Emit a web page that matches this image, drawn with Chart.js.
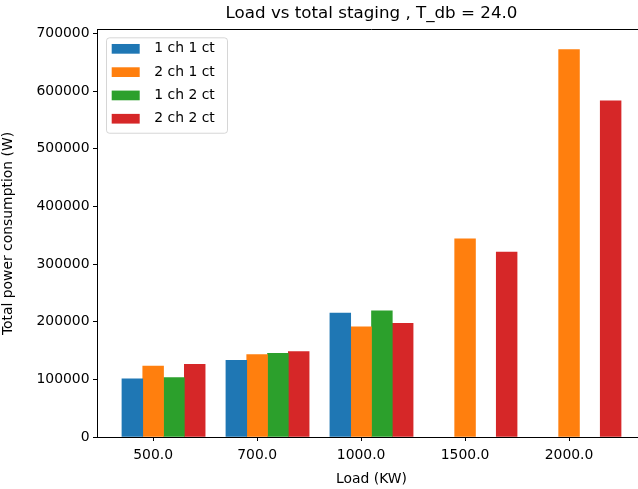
<!DOCTYPE html>
<html>
<head>
<meta charset="utf-8">
<script src="https://cdn.jsdelivr.net/npm/chart.js@4.4.0/dist/chart.umd.min.js"></script>
<style>
  html, body { margin: 0; padding: 0; background: #fff; }
  #wrap { width: 638px; height: 489px; overflow: hidden; }
  canvas { display: block; }
</style>
</head>
<body>
<div id="wrap"><canvas id="chart" width="646" height="489"></canvas></div>
<script>
// loads on the x axis (KW)
const loads = ['500.0', '700.0', '1000.0', '1500.0', '2000.0'];
const seriesNames = ['1 ch 1 ct', '2 ch 1 ct', '1 ch 2 ct', '2 ch 2 ct'];

// total power consumption (W), null = no bar
const oneChOneCt = [101000, 133000, 215000, null, null];
const twoChOneCt = [123000, 143000, 191000, 344000, 672000];
const oneChTwoCt = [103000, 145000, 219000, null, null];
const twoChTwoCt = [126000, 148000, 197000, 321000, 583000];

const yTicks = [0, 100000, 200000, 300000, 400000, 500000, 600000, 700000];
const colors = ['#1f77b4', '#ff7f0e', '#2ca02c', '#d62728'];

const barWidth = 0.2;
const font = { family: 'DejaVu Sans', size: 13.9 };

// bars sit at x-0.2, x, x+0.2, x+0.4 like the matplotlib script
function toBars(values, i) {
  const off = (i - 1) * barWidth;
  return values
    .map((v, k) => (v === null ? null : { x: k + off, y: v }))
    .filter(Boolean);
}

const allSeries = [oneChOneCt, twoChOneCt, oneChTwoCt, twoChTwoCt];
const datasets = allSeries.map((vals, i) => ({
  label: seriesNames[i],
  data: toBars(vals, i),
  backgroundColor: colors[i],
  borderWidth: 0,
  grouped: false,
  categoryPercentage: 1,
  barPercentage: 1
}));

// legend box drawn inside the axes, top-left
const insideLegend = {
  id: 'insideLegend',
  afterDatasetsDraw(chart) {
    const { ctx, chartArea } = chart;
    const x0 = chartArea.left + 9;
    const y0 = chartArea.top + 7.3;
    const rowH = 23.3;
    const n = chart.data.datasets.length;
    ctx.save();
    ctx.beginPath();
    ctx.roundRect(x0 + 0.5, y0 + 0.5, 121, rowH * n + 2.2, 3);
    ctx.fillStyle = 'rgba(255,255,255,0.8)';
    ctx.fill();
    ctx.strokeStyle = 'rgba(204,204,204,0.8)';
    ctx.lineWidth = 1;
    ctx.stroke();
    ctx.font = `${font.size}px "${font.family}"`;
    ctx.textBaseline = 'middle';
    ctx.textAlign = 'left';
    chart.data.datasets.forEach((ds, i) => {
      const cy = y0 + 11.5 + i * rowH;
      ctx.fillStyle = ds.backgroundColor;
      ctx.fillRect(x0 + 5.7, cy - 4.85, 28, 9.7);
      ctx.fillStyle = '#000';
      ctx.fillText(ds.label, x0 + 48.3, cy);
    });
    ctx.restore();
  }
};

// top and right spines
const frame = {
  id: 'frame',
  afterDraw(chart) {
    const { ctx, chartArea } = chart;
    ctx.save();
    ctx.strokeStyle = '#000';
    ctx.lineWidth = 1;
    ctx.beginPath();
    ctx.moveTo(chartArea.left, Math.round(chartArea.top) - 0.5);
    ctx.lineTo(chartArea.right, Math.round(chartArea.top) - 0.5);
    ctx.lineTo(chartArea.right, chartArea.bottom);
    ctx.stroke();
    ctx.restore();
  }
};

const ctx = document.getElementById('chart').getContext('2d');
new Chart(ctx, {
  type: 'bar',
  data: { datasets: datasets },
  plugins: [insideLegend, frame],
  options: {
    responsive: false,
    animation: false,
    devicePixelRatio: 1,
    layout: { padding: 0 },
    plugins: {
      legend: { display: false },
      tooltip: { enabled: false },
      title: {
        display: true,
        text: 'Load vs total staging , T_db = 24.0',
        color: '#000',
        fullSize: false,
        font: { family: font.family, size: 16.7, weight: 'normal' },
        padding: { top: 3.5, bottom: 6.5 }
      }
    },
    scales: {
      x: {
        type: 'linear',
        offset: false,
        min: -0.54,
        max: 4.74,
        afterFit(scale) { scale.height = 52; },
        afterBuildTicks(scale) {
          scale.ticks = loads.map((_, i) => ({ value: i }));
        },
        ticks: {
          color: '#000',
          font: font,
          padding: 6.5,
          maxRotation: 0,
          callback: (v) => loads[v]
        },
        grid: { offset: false, drawOnChartArea: false, drawTicks: true, tickLength: 4, color: '#000' },
        border: { display: true, color: '#000', width: 1 },
        title: {
          display: true,
          text: 'Load (KW)',
          color: '#000',
          font: font,
          padding: { top: 0, bottom: 1.5 }
        }
      },
      y: {
        min: 0,
        max: 706000,
        afterFit(scale) { scale.width = 97; },
        afterBuildTicks(scale) {
          scale.ticks = yTicks.map(v => ({ value: v }));
        },
        ticks: {
          color: '#000',
          font: font,
          padding: 3.5,
          callback: (v) => String(v)
        },
        grid: { drawOnChartArea: false, drawTicks: true, tickLength: 4, color: '#000' },
        border: { display: true, color: '#000', width: 1 },
        title: {
          display: true,
          text: 'Total power consumption (W)',
          color: '#000',
          font: font,
          padding: { top: 0, bottom: 0 }
        }
      }
    }
  }
});
</script>
</body>
</html>
